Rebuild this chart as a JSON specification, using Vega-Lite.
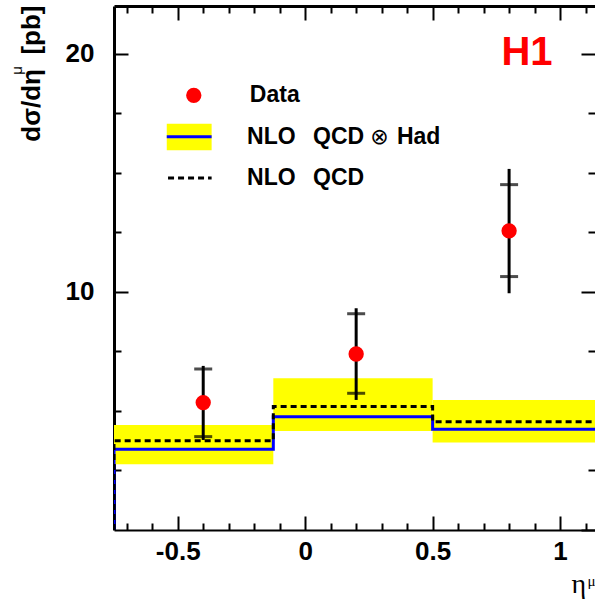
{
  "$schema": "https://vega.github.io/schema/vega-lite/v6.json",
  "width": 481,
  "height": 524,
  "autosize": "none",
  "padding": {"left": 114, "top": 6, "right": 0, "bottom": 72},
  "background": "white",
  "config": {"view": {"stroke": null}, "font": "Liberation Sans", "axis": {"grid": false, "labelFlush": false, "labelOverlap": false, "domainColor": "black", "tickColor": "black", "labelColor": "black", "titleColor": "black"}},
  "datasets": {
    "bands": [
      {"x": -0.75, "x2": -0.125, "lo": 2.76, "hi": 4.41},
      {"x": -0.125, "x2": 0.5, "lo": 4.16, "hi": 6.37},
      {"x": 0.5, "x2": 1.15, "lo": 3.67, "hi": 5.46}
    ],
    "had": [
      {"o": 0, "x": -0.75, "y": 0},
      {"o": 1, "x": -0.75, "y": 3.39},
      {"o": 2, "x": -0.125, "y": 4.76},
      {"o": 3, "x": 0.5, "y": 4.23},
      {"o": 4, "x": 1.15, "y": 4.23}
    ],
    "nlo": [
      {"o": 0, "x": -0.75, "y": 0},
      {"o": 1, "x": -0.75, "y": 3.75},
      {"o": 2, "x": -0.125, "y": 5.18},
      {"o": 3, "x": 0.5, "y": 4.55},
      {"o": 4, "x": 1.15, "y": 4.55}
    ],
    "pts": [
      {"x": -0.4, "y": 5.35, "tlo": 3.78, "thi": 6.89, "slo": 3.92, "shi": 6.76},
      {"x": 0.2, "y": 7.39, "tlo": 5.46, "thi": 9.31, "slo": 5.74, "shi": 9.08},
      {"x": 0.8, "y": 12.56, "tlo": 9.94, "thi": 15.16, "slo": 10.64, "shi": 14.5}
    ],
    "legpt": [{"x": -0.437, "y": 18.25}],
    "legband": [{"x": -0.543, "x2": -0.367, "lo": 15.94, "hi": 17.06, "y": 16.51}],
    "legdash": [{"x": -0.538, "x2": -0.367, "y": 14.78}],
    "legtext": [
      {"x": -0.217, "y": 18.25, "t": "Data"},
      {"x": -0.228, "y": 16.52, "t": "NLO\u00a0\u00a0\u2009QCD"},
      {"x": 0.36, "y": 16.52, "t": "Had"},
      {"x": -0.228, "y": 14.78, "t": "NLO\u00a0\u00a0\u2009QCD"}
    ],
    "otimes": [{"x": 0.291, "y": 16.52, "t": "\u2297"}],
    "h1": [{"x": 0.87, "y": 19.54, "t": "H1"}]
  },
  "resolve": {"axis": {"x": "independent", "y": "independent"}},
  "layer": [
    {
      "data": {"name": "bands"},
      "mark": {"type": "rect", "color": "#ffff00", "clip": true},
      "encoding": {
        "x": {"field": "x", "type": "quantitative", "scale": {"domain": [-0.75, 1.137], "nice": false, "zero": false},
          "axis": {"orient": "bottom", "values": [-0.5, 0, 0.5, 1], "labelExpr": "toString(datum.value)", "labelFont": "Liberation Sans", "labelFontWeight": "bold", "labelFontSize": 26, "labelPadding": 22, "tickSize": -14, "tickWidth": 2, "domainWidth": 2, "title": "η", "titleFont": "Liberation Serif", "titleFontWeight": "normal", "titleFontSize": 28, "titleX": 457, "titleY": 62, "titleAlign": "left", "titleBaseline": "alphabetic", "titleAngle": 0}},
        "x2": {"field": "x2"},
        "y": {"field": "lo", "type": "quantitative", "scale": {"domain": [0, 22], "nice": false, "zero": false},
          "axis": {"orient": "left", "values": [10, 20], "labelFont": "Liberation Sans", "labelFontWeight": "bold", "labelFontSize": 26, "labelPadding": 34, "tickSize": -14, "tickWidth": 2, "domainWidth": 3, "title": "dσ/dη\u00a0\u00a0[pb]", "titleFont": "Liberation Sans", "titleFontWeight": "bold", "titleFontSize": 26, "titleAngle": 270, "titleAlign": "right", "titleBaseline": "alphabetic", "titleX": -75, "titleY": -1}},
        "y2": {"field": "hi"}
      }
    },
    {
      "data": {"name": "had"},
      "mark": {"type": "line", "color": "#0000ff", "strokeWidth": 3, "interpolate": "step-after", "clip": true},
      "encoding": {
        "x": {"field": "x", "type": "quantitative", "axis": {"orient": "bottom", "values": [-0.7, -0.6, -0.4, -0.3, -0.2, -0.1, 0.1, 0.2, 0.3, 0.4, 0.6, 0.7, 0.8, 0.9, 1.1], "labels": false, "domain": false, "tickSize": -7, "tickWidth": 2, "title": "μ", "titleFont": "Liberation Serif", "titleFontWeight": "normal", "titleFontSize": 15, "titleX": 473, "titleY": 55, "titleAlign": "left", "titleBaseline": "alphabetic", "titleAngle": 0}},
        "y": {"field": "y", "type": "quantitative", "axis": {"orient": "left", "values": [2.5, 5, 7.5, 12.5, 15, 17.5], "labels": false, "domain": false, "tickSize": -7, "tickWidth": 2, "title": "μ", "titleFont": "Liberation Sans", "titleFontWeight": "normal", "titleFontSize": 15, "titleAngle": 270, "titleAlign": "center", "titleBaseline": "alphabetic", "titleX": -93, "titleY": 64}},
        "order": {"field": "o", "type": "quantitative"}
      }
    },
    {
      "data": {"name": "nlo"},
      "mark": {"type": "line", "color": "black", "strokeWidth": 3, "strokeDash": [6, 4], "interpolate": "step-after", "clip": true},
      "encoding": {
        "x": {"field": "x", "type": "quantitative", "axis": {"orient": "top", "values": [-0.5, 0, 0.5, 1], "labels": false, "domainWidth": 3, "tickSize": -14, "tickWidth": 2, "title": null}},
        "y": {"field": "y", "type": "quantitative", "axis": {"orient": "right", "values": [0, 10, 20], "labels": false, "domain": false, "tickSize": -14, "tickWidth": 2, "title": null}},
        "order": {"field": "o", "type": "quantitative"}
      }
    },
    {
      "data": {"name": "pts"},
      "mark": {"type": "rule", "color": "black", "strokeWidth": 3},
      "encoding": {
        "x": {"field": "x", "type": "quantitative", "axis": {"orient": "top", "values": [-0.7, -0.6, -0.4, -0.3, -0.2, -0.1, 0.1, 0.2, 0.3, 0.4, 0.6, 0.7, 0.8, 0.9, 1.1], "labels": false, "domain": false, "tickSize": -7, "tickWidth": 2, "title": null}},
        "y": {"field": "tlo", "type": "quantitative", "axis": {"orient": "right", "values": [2.5, 5, 7.5, 12.5, 15, 17.5], "labels": false, "domain": false, "tickSize": -7, "tickWidth": 2, "title": null}},
        "y2": {"field": "thi"}
      }
    },
    {
      "data": {"name": "pts"},
      "mark": {"type": "tick", "color": "black", "orient": "horizontal", "size": 18, "thickness": 3},
      "encoding": {
        "x": {"field": "x", "type": "quantitative", "axis": null},
        "y": {"field": "slo", "type": "quantitative", "axis": null}
      }
    },
    {
      "data": {"name": "pts"},
      "mark": {"type": "tick", "color": "black", "orient": "horizontal", "size": 18, "thickness": 3},
      "encoding": {
        "x": {"field": "x", "type": "quantitative", "axis": null},
        "y": {"field": "shi", "type": "quantitative", "axis": null}
      }
    },
    {
      "data": {"name": "pts"},
      "mark": {"type": "circle", "color": "#ff0000", "opacity": 1, "size": 235},
      "encoding": {
        "x": {"field": "x", "type": "quantitative", "axis": null},
        "y": {"field": "y", "type": "quantitative", "axis": null}
      }
    },
    {
      "data": {"name": "legpt"},
      "mark": {"type": "circle", "color": "#ff0000", "opacity": 1, "size": 235},
      "encoding": {
        "x": {"field": "x", "type": "quantitative", "axis": null},
        "y": {"field": "y", "type": "quantitative", "axis": null}
      }
    },
    {
      "data": {"name": "legband"},
      "mark": {"type": "rect", "color": "#ffff00"},
      "encoding": {
        "x": {"field": "x", "type": "quantitative", "axis": null},
        "x2": {"field": "x2"},
        "y": {"field": "lo", "type": "quantitative", "axis": null},
        "y2": {"field": "hi"}
      }
    },
    {
      "data": {"name": "legband"},
      "mark": {"type": "rule", "color": "#0000ff", "strokeWidth": 3},
      "encoding": {
        "x": {"field": "x", "type": "quantitative", "axis": null},
        "x2": {"field": "x2"},
        "y": {"field": "y", "type": "quantitative", "axis": null}
      }
    },
    {
      "data": {"name": "legdash"},
      "mark": {"type": "rule", "color": "black", "strokeWidth": 3, "strokeDash": [6, 4]},
      "encoding": {
        "x": {"field": "x", "type": "quantitative", "axis": null},
        "x2": {"field": "x2"},
        "y": {"field": "y", "type": "quantitative", "axis": null}
      }
    },
    {
      "data": {"name": "legtext"},
      "mark": {"type": "text", "align": "left", "baseline": "middle", "font": "Liberation Sans", "fontWeight": "bold", "fontSize": 23, "color": "black"},
      "encoding": {
        "x": {"field": "x", "type": "quantitative", "axis": null},
        "y": {"field": "y", "type": "quantitative", "axis": null},
        "text": {"field": "t"}
      }
    },
    {
      "data": {"name": "otimes"},
      "mark": {"type": "text", "align": "center", "baseline": "middle", "font": "DejaVu Sans", "fontWeight": "normal", "fontSize": 22, "color": "black"},
      "encoding": {
        "x": {"field": "x", "type": "quantitative", "axis": null},
        "y": {"field": "y", "type": "quantitative", "axis": null},
        "text": {"field": "t"}
      }
    },
    {
      "data": {"name": "h1"},
      "mark": {"type": "text", "align": "center", "baseline": "alphabetic", "font": "Liberation Sans", "fontWeight": "bold", "fontSize": 40, "color": "#ff0000"},
      "encoding": {
        "x": {"field": "x", "type": "quantitative", "axis": null},
        "y": {"field": "y", "type": "quantitative", "axis": null},
        "text": {"field": "t"}
      }
    }
  ]
}
